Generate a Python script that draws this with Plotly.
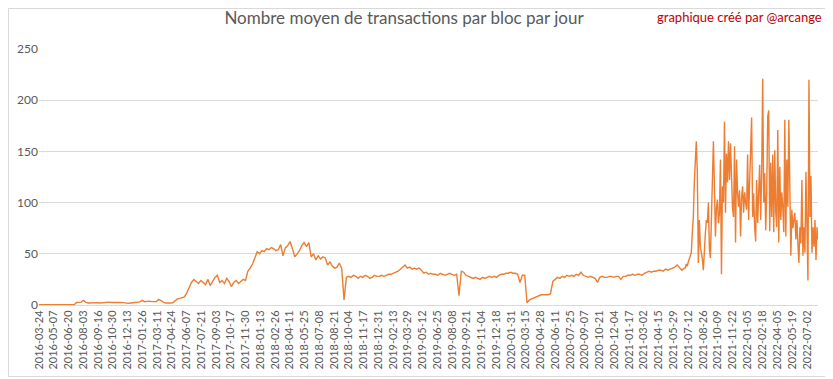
import pandas as pd
import plotly.graph_objects as go

TITLE = "Nombre moyen de transactions par bloc par jour"
CREDIT = "graphique créé par @arcange"

# Weekly readings, 2016-03-24 .. 2021-07-01
start_a = "2016-03-24"
vals_a = [
    # 2016-03 .. 2016-07 (k 0-15)
    0.2, 0.2, 0.2, 0.2, 0.2, 0.2, 0.2, 0.2, 0.2, 0.2, 0.2, 0.2, 0.2, 0.2, 0.2, 0.2,
    # k 16-58
    2.5, 3, 2.8, 4.5, 2.5, 2, 2.2, 1.8, 2, 2.3, 1.9, 2.1, 2.6, 2.2, 2.8, 2.4, 2.6, 2.2,
    2.9, 2.5, 2.3, 1.8, 1.6, 2, 2.2, 2.4, 2.1, 3, 4.5, 3.2, 3.5, 3.8, 3.3, 3.6, 3.4,
    5.5, 3.8, 2.8, 2, 1.7, 1.9, 2.1, 4.5,
    # k 59-66
    6, 6.5, 7.5, 8, 12, 17, 22, 25,
    # k 67-88
    23, 21, 24, 22, 20, 25, 19, 23, 27, 29, 22, 24, 21, 26, 23, 18, 22, 24, 21, 23, 25, 24,
    # k 89-131
    33, 36, 40, 46, 52, 50, 53, 52, 55, 54, 56, 55, 53, 54, 59, 48, 56, 58, 62, 55, 47,
    50, 53, 58, 61, 57, 61, 47, 50, 44, 48, 45, 47, 46, 39, 42, 38, 36, 37, 41, 36, 5, 27,
    # k 132-150
    28, 27, 29, 28, 26, 28, 27, 29, 28, 26, 27, 29, 28, 28, 29, 28, 29, 30, 30,
    # k 151-207
    31, 32, 33, 35, 37, 39, 36, 37, 35, 36, 35, 36, 34, 31, 32, 30, 31, 30, 30, 29,
    31, 30, 29, 30, 31, 30, 29, 30, 9, 33, 32, 29, 28, 27, 26, 27, 26, 25, 27, 26,
    27, 28, 27, 28, 27, 29, 30, 30, 31, 31, 32, 31, 31, 30, 22, 29, 29,
    # k 208-218
    2, 5, 6, 7, 8, 9, 10, 10, 10, 10, 11,
    # k 219-275
    23, 25, 27, 26, 28, 27, 29, 28, 29, 28, 30, 29, 32, 29, 28, 27, 28, 27, 26, 22,
    27, 28, 27, 27, 28, 28, 27, 28, 28, 25, 28, 28, 29, 29, 30, 29, 30, 30, 29, 31,
    32, 33, 32, 33, 33, 34, 34, 33, 35, 34, 35, 36, 37, 39, 36, 34, 36,
]

# Readings every 3 days, 2021-07-04 .. 2022-08-04
start_b = "2021-07-04"
vals_b = [
    36, 40, 38, 42, 45, 48, 51, 70, 86, 120, 140, 160, 129, 41, 83, 57, 51, 45, 34, 60,
    70, 83, 80, 100, 55, 46, 90, 120, 160, 116, 67, 95, 103, 80, 90, 142, 30, 116, 100, 179,
    90, 148, 120, 160, 122, 158, 109, 95, 86, 155, 61, 142, 110, 96, 112, 67, 105, 116, 90, 110,
    100, 93, 147, 83, 120, 151, 183, 86, 109, 76, 62, 122, 80, 110, 137, 83, 130, 221, 100, 129,
    73, 109, 184, 190, 72, 139, 86, 147, 71, 151, 90, 76, 171, 61, 135, 83, 110, 95, 71, 181,
    67, 142, 96, 181, 103, 48, 93, 75, 83, 90, 64, 83, 60, 41, 76, 60, 122, 48, 76, 51,
    130, 57, 24, 220, 86, 126, 51, 76, 57, 83, 44, 76, 64,
]

tick_labels = [
    "2016-03-24", "2016-05-07", "2016-06-20", "2016-08-03", "2016-09-16", "2016-10-30",
    "2016-12-13", "2017-01-26", "2017-03-11", "2017-04-24", "2017-06-07", "2017-07-21",
    "2017-09-03", "2017-10-17", "2017-11-30", "2018-01-13", "2018-02-26", "2018-04-11",
    "2018-05-25", "2018-07-08", "2018-08-21", "2018-10-04", "2018-11-17", "2018-12-31",
    "2019-02-13", "2019-03-29", "2019-05-12", "2019-06-25", "2019-08-08", "2019-09-21",
    "2019-11-04", "2019-12-18", "2020-01-31", "2020-03-15", "2020-04-28", "2020-06-11",
    "2020-07-25", "2020-09-07", "2020-10-21", "2020-12-04", "2021-01-17", "2021-03-02",
    "2021-04-15", "2021-05-29", "2021-07-12", "2021-08-26", "2021-10-09", "2021-11-22",
    "2022-01-05", "2022-02-18", "2022-04-05", "2022-05-19", "2022-07-02",
]
y_ticks = [0, 50, 100, 150, 200, 250]

dates_a = pd.date_range(start_a, periods=len(vals_a), freq="7D")
dates_b = pd.date_range(start_b, periods=len(vals_b), freq="3D")
dates = list(dates_a) + list(dates_b)
values = vals_a + vals_b

FONT = "Lato, Calibri, Carlito, sans-serif"
GREY = "#595959"
GRID = "#D9D9D9"

fig = go.Figure()
fig.add_trace(go.Scatter(
    x=dates, y=values, mode="lines",
    line=dict(color="#ED7D31", width=1.4),
    showlegend=False, hoverinfo="x+y",
))

# the page body has an 8px margin, so the figure is sized to fit the window
OFF = 8
W, H = 833 - OFF, 379 - OFF
L, R, T, B = 39 - OFF, 15, 49 - OFF, 74
pw, ph = W - L - R, H - T - B

fig.update_layout(
    width=W, height=H,
    margin=dict(l=L, r=R, t=T, b=B, autoexpand=False),
    paper_bgcolor="white", plot_bgcolor="white",
    font=dict(family=FONT, color=GREY, size=12),
    title=dict(text=TITLE, x=(404 - OFF) / W, xanchor="center",
               y=1 - 10.5 / H, yanchor="middle",
               font=dict(family=FONT, size=17, color=GREY)),
    xaxis=dict(
        type="date", automargin=False,
        range=[start_a, dates_b[-1]],
        tickvals=tick_labels, ticktext=tick_labels,
        tickangle=-90, tickfont=dict(size=11, color=GREY),
        showgrid=False, zeroline=False,
        showline=True, linecolor=GRID, linewidth=1,
        ticks="", ticklen=0,
    ),
    yaxis=dict(
        range=[0, 250], tickvals=y_ticks, automargin=False,
        showgrid=True, gridcolor=GRID, gridwidth=1,
        zeroline=False, showline=False, ticks="",
        tickfont=dict(size=12, color=GREY),
        ticksuffix="  ",
    ),
    annotations=[dict(
        text=CREDIT, xref="paper", yref="paper",
        x=(824 - OFF - L) / pw, xanchor="right",
        y=(H - B - 8.5) / ph, yanchor="middle",
        showarrow=False, font=dict(family=FONT, size=13, color="#C00000"),
    )],
    shapes=[dict(
        type="rect", xref="paper", yref="paper",
        x0=(0.5 - L) / pw, x1=(829.5 - OFF - L) / pw,
        y0=(H - B - (376.5 - OFF)) / ph, y1=(H - B - 0.5) / ph,
        line=dict(color=GRID, width=1), fillcolor="rgba(0,0,0,0)", layer="below",
    )],
)

fig.write_html("out.html")
